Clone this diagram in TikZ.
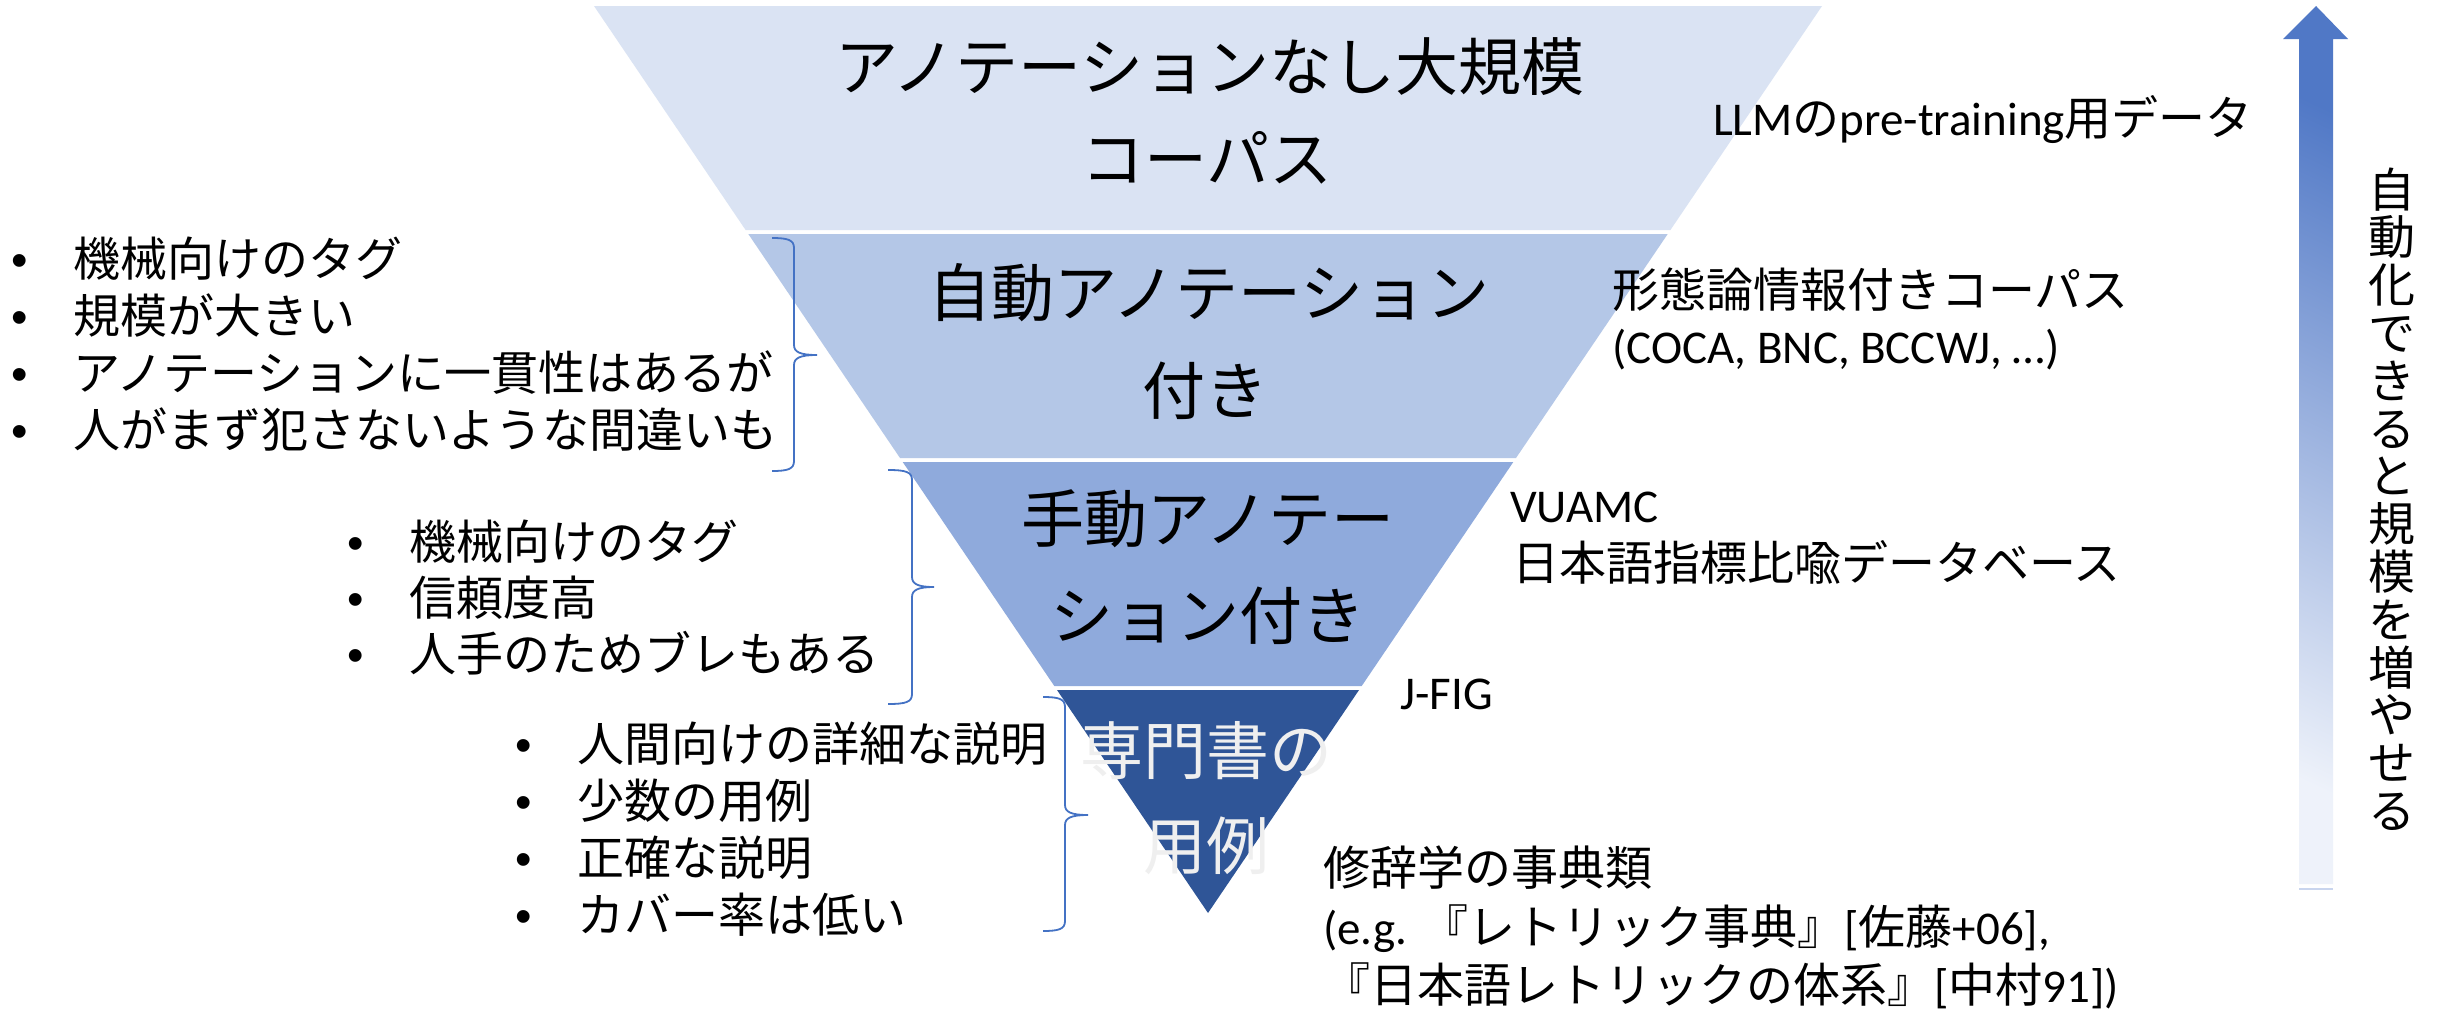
\documentclass[tikz,border=0pt]{standalone}
\usepackage{fontspec}
\setmainfont{Noto Sans CJK JP}
\newfontfamily\lat{Carlito}
\newfontfamily\arialf{Liberation Sans}
\definecolor{bandA}{HTML}{DAE3F3}
\definecolor{bandB}{HTML}{B4C7E7}
\definecolor{bandC}{HTML}{8FAADC}
\definecolor{bandD}{HTML}{2F5597}
\definecolor{braceblue}{HTML}{4472C4}
\definecolor{whitetxt}{HTML}{EFEFEF}
\definecolor{arrowtop}{HTML}{5078C6}
\definecolor{arrowbot}{HTML}{EEF2FA}
\definecolor{arrowline}{HTML}{C9D5EE}
\tikzset{
  txt/.style={inner sep=0pt, anchor=base west, font=\fontsize{47}{57}\selectfont},
  bandtxt/.style={inner sep=0pt, anchor=base, font=\fontsize{63}{76}\selectfont},
  vtxt/.style={inner sep=0pt, anchor=base, font=\fontsize{47}{57}\selectfont},
  bracestyle/.style={draw=braceblue, line width=1.8pt},
}
\newcommand\bul{\makebox[62pt][l]{\arialf •}}
% #1 x of ends, #2 x of vertical, #3 x of tip, #4 y top, #5 y tip, #6 y bottom
\newcommand\mybrace[6]{%
  \draw[bracestyle] (#1,#4) .. controls ({#2-6},#4) and (#2,{#4+2}) .. (#2,{#4+10})
    -- (#2,{#5-10}) .. controls (#2,{#5-3}) and ({#2+6},#5) .. (#3,#5)
    .. controls ({#2+6},#5) and (#2,{#5+3}) .. (#2,{#5+10})
    -- (#2,{#6-10}) .. controls (#2,{#6-2}) and ({#2-6},#6) .. (#1,#6);}
\begin{document}
\begin{tikzpicture}[x=1pt,y=-1pt]
\useasboundingbox (0,0) rectangle (2440,1012);
\fill[white] (0,0) rectangle (2440,1012);
% funnel bands
\fill[bandA] (594,6) -- (1822,6) -- (1670.4,230) -- (745.6,230) -- cycle;
\fill[bandB] (748.3,234) -- (1667.7,234) -- (1516,458) -- (900,458) -- cycle;
\fill[bandC] (902.7,462) -- (1513.3,462) -- (1361.7,686) -- (1054.3,686) -- cycle;
\fill[bandD] (1057,690) -- (1359,690) -- (1208,913) -- cycle;
% band texts
\node[bandtxt] (b1a) at (1210,90) {アノテーションなし大規模};
\node[bandtxt] (b1b) at (1207,182) {コーパス};
\node[bandtxt] (b2a) at (1209,316) {自動アノテーション};
\node[bandtxt] (b2b) at (1205,414) {付き};
\node[bandtxt] (b3a) at (1208,542) {手動アノテー};
\node[bandtxt] (b3b) at (1208,639) {ション付き};
\node[bandtxt, text=whitetxt] (b4a) at (1206,774) {専門書の};
\node[bandtxt, text=whitetxt] (b4b) at (1206,869) {用例};
% left bullet lists
\node[txt] (g1a) at (11,276) {\bul 機械向けのタグ};
\node[txt] (g1b) at (11,333) {\bul 規模が大きい};
\node[txt] (g1c) at (11,390) {\bul アノテーションに一貫性はあるが};
\node[txt] (g1d) at (11,447) {\bul 人がまず犯さないような間違いも};
\node[txt] (g2a) at (347,559) {\bul 機械向けのタグ};
\node[txt] (g2b) at (347,615) {\bul 信頼度高};
\node[txt] (g2c) at (347,671) {\bul 人手のためブレもある};
\node[txt] (g3a) at (515,761) {\bul 人間向けの詳細な説明};
\node[txt] (g3b) at (515,818) {\bul 少数の用例};
\node[txt] (g3c) at (515,875) {\bul 正確な説明};
\node[txt] (g3d) at (515,932) {\bul カバー率は低い};
% braces
\mybrace{772}{794}{817}{238}{355}{471}
\mybrace{888}{912}{934}{470}{587}{704}
\mybrace{1043}{1065}{1088}{697}{815}{931}
% right texts
\node[txt] (r1) at (1713,135) {{\lat LLM}の{\lat pre-training}用データ};
\node[txt] (r2a) at (1612,307) {形態論情報付きコーパス};
\node[txt] (r2b) at (1612,363) {\lat (COCA, BNC, BCCWJ, …)};
\node[txt] (r3a) at (1510,522) {\lat VUAMC};
\node[txt] (r3b) at (1512,580) {日本語指標比喩データベース};
\node[txt] (r4) at (1400,709) {\lat J-FIG};
\node[txt] (r5a) at (1323,885) {修辞学の事典類};
\node[txt] (r5b) at (1323,944) {{\lat (e.g. }『レトリック事典』{\lat [}佐藤{\lat +06],}};
\node[txt] (r5c) at (1323,1002) {『日本語レトリックの体系』{\lat [}中村{\lat 91])}};
% arrow
\shade[top color=arrowtop, bottom color=arrowbot, shading angle=-25]
  (2316,6) -- (2348,39) -- (2333,39) -- (2333,884) -- (2299,884) -- (2299,39) -- (2283,39) -- cycle;
\draw[arrowline, line width=2pt] (2299,889) -- (2333,889);
% vertical text
\foreach \c [count=\i] in {自,動,化,で,き,る,と,規,模,を,増,や,せ,る}
  \node[vtxt] (v\i) at (2392,{207+47.8*(\i-1)}) {\c};
\end{tikzpicture}
\end{document}
